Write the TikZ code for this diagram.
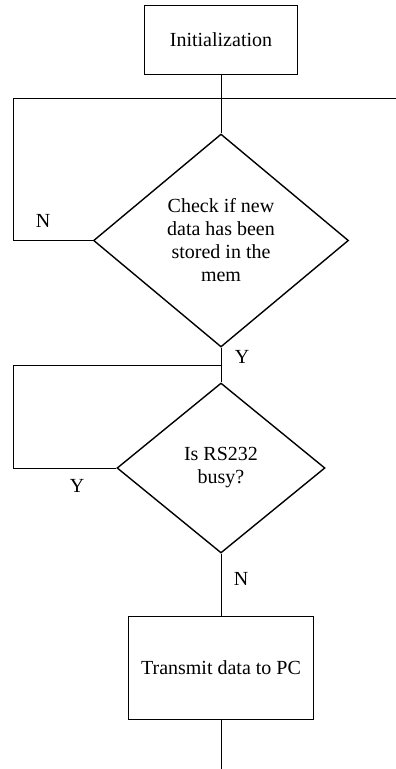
\documentclass[tikz,border=0pt]{standalone}
\usepackage{fontspec}
\setmainfont{Liberation Serif}
\usetikzlibrary{shapes.geometric}

\begin{document}
\begin{tikzpicture}[x=1pt, y=-1pt,
  box/.style = {draw, line width=0.9pt, inner sep=0pt},
  test/.style = {draw, diamond, line width=1.4pt, inner sep=0pt, align=center},
  wire/.style = {line width=0.9pt},
  font=\fontsize{20}{23}\selectfont]

\useasboundingbox (0,0) rectangle (396,769);

%% blocks
\node[box, minimum width=153pt, minimum height=69pt] (init) at (221,39.5) {Initialization};
\node[test, minimum width=255pt, minimum height=213pt] (check) at (221,240.5) {Check if new\\data has been\\stored in the\\mem};
\node[test, minimum width=208pt, minimum height=170pt] (busy) at (221,468) {Is RS232\\busy?};
\node[box, minimum width=185pt, minimum height=103pt] (send) at (221,667.5) {Transmit data to PC};

%% branch labels
\node (n1) at (43,221) {N};
\node (y1) at (242,357) {Y};
\node (y2) at (77,486) {Y};
\node (n2) at (241,579) {N};

%% corners and free ends
\coordinate (loopA) at (13,98);
\coordinate (exitA) at (396,98);
\coordinate (loopB) at (13,365);
\coordinate (joinB) at (221,365);
\coordinate (out) at (221,769);

%%% edges
\draw[wire] (init.south) -- (check.north);
\draw[wire] (check.west) -| (loopA) -- (exitA);
\draw[wire] (check.south) -- (busy.north);
\draw[wire] (busy.west) -| (loopB) -- (joinB);
\draw[wire] (busy.south) -- (send.north);
\draw[wire] (send.south) -- (out);

\end{tikzpicture}
\end{document}
